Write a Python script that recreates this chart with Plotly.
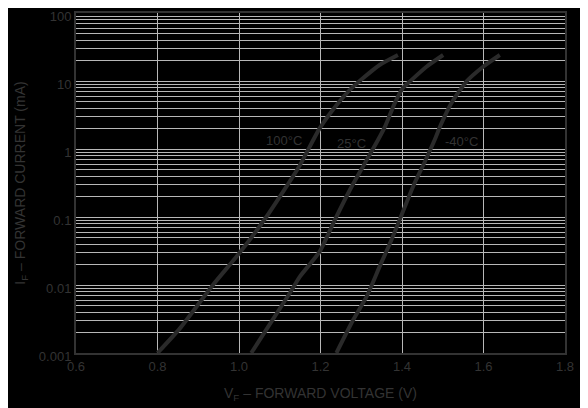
import math
import plotly.graph_objects as go

# Forward voltage (V) and forward current (mA) per temperature
v_100 = [0.800, 0.855, 0.936, 1.000, 1.067, 1.145, 1.165, 1.198, 1.243, 1.272, 1.304, 1.345, 1.390]
i_100 = [0.001, 0.0023, 0.010, 0.029, 0.100, 0.52, 0.865, 2.01, 4.7, 7.4, 10.96, 17.2, 24.1]

v_25 = [1.030, 1.124, 1.149, 1.198, 1.235, 1.272, 1.304, 1.341, 1.360, 1.382, 1.403, 1.419, 1.460, 1.501]
i_25 = [0.001, 0.0075, 0.0132, 0.031, 0.090, 0.249, 0.55, 1.355, 2.25, 4.7, 8.0, 9.8, 16.2, 24.1]

v_m40 = [1.239, 1.280, 1.313, 1.345, 1.374, 1.399, 1.427, 1.456, 1.480, 1.495, 1.521, 1.558, 1.599, 1.640]
i_m40 = [0.001, 0.00305, 0.00673, 0.0186, 0.0459, 0.107, 0.279, 0.65, 1.355, 2.25, 4.7, 9.8, 16.2, 24.1]

series_names = ["100°C", "25°C", "-40°C"]
label_v = [1.111, 1.277, 1.545]
label_i = [1.33, 1.20, 1.27]

x_ticks = [0.6, 0.8, 1.0, 1.2, 1.4, 1.6, 1.8]
x_tick_text = ["0.6", "0.8", "1.0", "1.2", "1.4", "1.6", "1.8"]
y_ticks = [0.001, 0.01, 0.1, 1, 10, 100]
y_tick_text = ["0.001", "0.01", "0.1", "1", "10", "100"]

curve_color = "#2a2a2a"
text_color = "#333333"
grid_color = "#b8b8b8"
font_family = "Liberation Sans, Arial, sans-serif"

fig = go.Figure()
for v, i in [(v_100, i_100), (v_25, i_25), (v_m40, i_m40)]:
    fig.add_trace(go.Scatter(x=v, y=i, mode="lines",
                             line=dict(color=curve_color, width=4, shape="spline", smoothing=0.6),
                             showlegend=False, hoverinfo="skip"))

for name, lv, li in zip(series_names, label_v, label_i):
    fig.add_annotation(x=lv, y=math.log10(li), xref="x", yref="y", text=name, showarrow=False,
                       font=dict(family=font_family, size=13, color=text_color))

fig.update_layout(
    width=588, height=408,
    margin=dict(l=68, r=31, t=5, b=63),
    paper_bgcolor="black", plot_bgcolor="black",
    font=dict(family=font_family, size=13, color=text_color),
    xaxis=dict(range=[0.6, 1.8], tickvals=x_ticks, ticktext=x_tick_text, automargin=False,
               ticklabeloverflow="allow",
               showgrid=True, gridcolor=grid_color, gridwidth=1,
               showline=True, linecolor="#333333", linewidth=2, mirror=True,
               ticks="", zeroline=False,
               title=dict(text="V<sub>F</sub> – FORWARD VOLTAGE (V)", standoff=16,
                          font=dict(size=14, color=text_color))),
    yaxis=dict(type="log", range=[-3, 2], tickvals=y_ticks, ticktext=y_tick_text, automargin=False,
               ticklabeloverflow="allow", ticklabelshift=3,
               showgrid=True, gridcolor=grid_color, gridwidth=1,
               minor=dict(dtick="D1", showgrid=True, gridcolor=grid_color, gridwidth=1, ticks=""),
               showline=True, linecolor="#333333", linewidth=2, mirror=True,
               ticks="", zeroline=False,
               title=dict(text="I<sub>F</sub> – FORWARD CURRENT (mA)", standoff=10,
                          font=dict(size=14, color=text_color))),
)

fig.write_html("out.html")
